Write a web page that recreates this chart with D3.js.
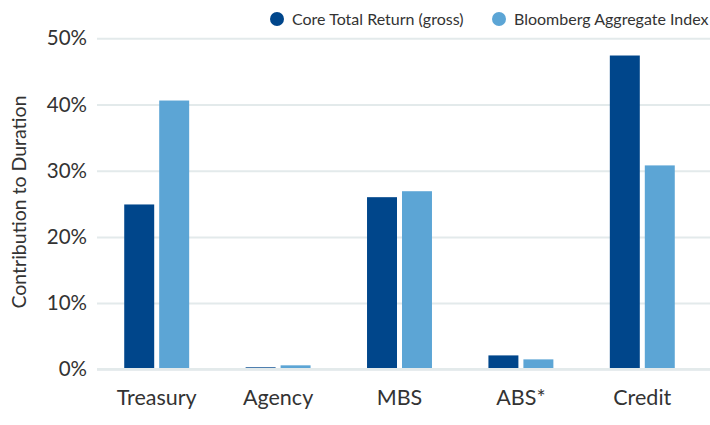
<!DOCTYPE html>
<html>
  <head>
    <meta charset="utf-8" />
    <title>Contribution to Duration</title>
    <style>
      body { margin: 0; background: #fff; }
      text { font-family: Lato, "Open Sans", sans-serif; fill: #333; }
      .grid line { stroke: #e3eaeb; stroke-width: 2; }
      .grid path { display: none; }
    </style>
  </head>
  <body>
    <div id="chart-area"></div>
    <script src="https://d3js.org/d3.v7.min.js"></script>
    <script>
      // chart data
      const categories = ["Treasury", "Agency", "MBS", "ABS*", "Credit"];
      const seriesNames = ["Core Total Return (gross)", "Bloomberg Aggregate Index"];
      const coreValues = [24.9, 0.3, 26.0, 2.1, 47.4];
      const aggValues = [40.6, 0.6, 26.9, 1.5, 30.8];
      const yTicks = [0, 10, 20, 30, 40, 50];
      const colors = ["#00468b", "#5ca5d5"];

      const width = 710;
      const height = 425;

      const svg = d3.select("#chart-area").append("svg")
        .attr("width", width)
        .attr("height", height);

      const yScale = d3.scaleLinear()
        .domain([0, 50])
        .range([369.3, 38.3]);

      const x0 = d3.scaleBand()
        .domain(categories)
        .range([96, 703])
        .paddingInner(0.465)
        .paddingOuter(0.2325);

      const x1 = d3.scaleBand()
        .domain(seriesNames)
        .range([0, x0.bandwidth()])
        .paddingInner(0.143);

      // gridlines
      svg.append("g")
        .attr("class", "grid")
        .attr("transform", "translate(97, 0)")
        .call(d3.axisLeft(yScale).tickValues(yTicks).tickSize(-(width - 97)).tickFormat(""));

      // y tick labels
      svg.append("g")
        .selectAll("text")
        .data(yTicks)
        .join("text")
        .attr("x", 87)
        .attr("y", d => yScale(d))
        .attr("dy", "0.35em")
        .attr("text-anchor", "end")
        .style("font-size", "20.5px")
        .text(d => d + "%");

      const rows = categories.map((c, i) => ({ cat: c, vals: [coreValues[i], aggValues[i]] }));

      const groups = svg.append("g")
        .selectAll("g")
        .data(rows)
        .join("g")
        .attr("transform", d => `translate(${x0(d.cat)}, 0)`);

      groups.selectAll("rect")
        .data(d => d.vals.map((v, j) => ({ name: seriesNames[j], value: v, j })))
        .join("rect")
        .attr("x", d => x1(d.name))
        .attr("y", d => yScale(d.value))
        .attr("width", x1.bandwidth())
        .attr("height", d => yScale(0) - yScale(d.value))
        .attr("fill", d => colors[d.j]);

      // baseline
      svg.append("line")
        .attr("x1", 97)
        .attr("x2", width)
        .attr("y1", yScale(0))
        .attr("y2", yScale(0))
        .attr("stroke", "#e3eaeb")
        .attr("stroke-width", 2.5);

      // x labels
      svg.append("g")
        .selectAll("text")
        .data(categories)
        .join("text")
        .attr("x", d => x0(d) + x0.bandwidth() / 2)
        .attr("y", 405)
        .attr("text-anchor", "middle")
        .style("font-size", "21.5px")
        .text(d => d);

      // y title
      svg.append("text")
        .attr("transform", "translate(26, 202) rotate(-90)")
        .attr("text-anchor", "middle")
        .style("font-size", "19.5px")
        .text("Contribution to Duration");

      // legend
      const legendX = [277, 499];
      const legend = svg.append("g")
        .selectAll("g")
        .data(seriesNames)
        .join("g")
        .attr("transform", (d, i) => `translate(${legendX[i]}, 19)`);

      legend.append("circle")
        .attr("r", 7)
        .attr("fill", (d, i) => colors[i]);

      legend.append("text")
        .attr("x", 15)
        .attr("dy", "0.35em")
        .style("font-size", "16px")
        .text(d => d);
    </script>
  </body>
</html>
